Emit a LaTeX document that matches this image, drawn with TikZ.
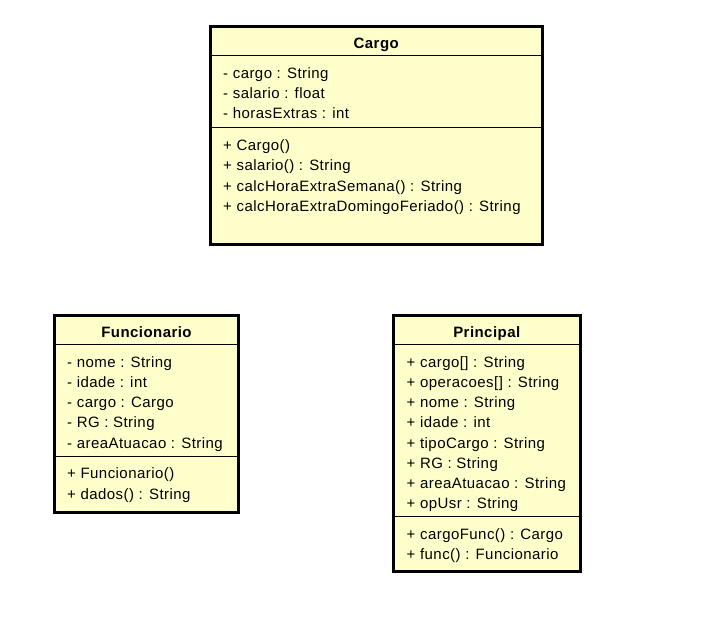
\documentclass[tikz,border=0pt]{standalone}
\usepackage{fontspec}
\setmainfont{Liberation Sans}[LetterSpace=3]
\begin{document}
\begin{tikzpicture}[x=1pt,y=-1pt,
  classbox/.style={draw=black, line width=3pt, fill=boxfill, inner sep=0pt, rectangle},
  sep/.style={draw=black, line width=1pt},
  title/.style={anchor=base, inner sep=0pt, font=\fontsize{15}{20}\selectfont\bfseries},
  member/.style={anchor=base west, inner sep=0pt, font=\fontsize{15}{20}\selectfont}]
\definecolor{boxfill}{HTML}{FFFFCC}
\useasboundingbox (0,0) rectangle (723,631);
% Cargo
\node[classbox, minimum width=331.5pt, minimum height=218pt] (cargo) at (376.25,135.5) {};
\draw[sep] (cargo.west |- 0,55.5) coordinate (c1l) -- (cargo.east |- 0,55.5) coordinate (c1r);
\draw[sep] (cargo.west |- 0,127.5) coordinate (c2l) -- (cargo.east |- 0,127.5) coordinate (c2r);
\node[title] (ctitle) at (376.25,49) {Cargo};
\node[member] (ca1) at (223,79) {- cargo : String};
\node[member] (ca2) at (223,99) {- salario : float};
\node[member] (ca3) at (223,119) {- horasExtras : int};
\node[member] (cm1) at (223,150.5) {+ Cargo()};
\node[member] (cm2) at (223,170.5) {+ salario() : String};
\node[member] (cm3) at (223,191.5) {+ calcHoraExtraSemana() : String};
\node[member] (cm4) at (223,211.5) {+ calcHoraExtraDomingoFeriado() : String};
% Funcionario
\node[classbox, minimum width=184pt, minimum height=197pt] (func) at (146.5,413.5) {};
\draw[sep] (func.west |- 0,344.5) coordinate (f1l) -- (func.east |- 0,344.5) coordinate (f1r);
\draw[sep] (func.west |- 0,456.5) coordinate (f2l) -- (func.east |- 0,456.5) coordinate (f2r);
\node[title] (ftitle) at (146.5,337.5) {Funcionario};
\node[member] (fa1) at (67,367) {- nome : String};
\node[member] (fa2) at (67,387) {- idade : int};
\node[member] (fa3) at (67,407) {- cargo : Cargo};
\node[member] (fa4) at (67,427) {- RG : String};
\node[member] (fa5) at (67,448) {- areaAtuacao : String};
\node[member] (fm1) at (67,478) {+ Funcionario()};
\node[member] (fm2) at (67,499) {+ dados() : String};
% Principal
\node[classbox, minimum width=186.5pt, minimum height=256.5pt] (princ) at (486.75,443.25) {};
\draw[sep] (princ.west |- 0,344.5) coordinate (p1l) -- (princ.east |- 0,344.5) coordinate (p1r);
\draw[sep] (princ.west |- 0,516.5) coordinate (p2l) -- (princ.east |- 0,516.5) coordinate (p2r);
\node[title] (ptitle) at (486.75,337.5) {Principal};
\node[member] (pa1) at (406.5,367) {+ cargo[] : String};
\node[member] (pa2) at (406.5,387) {+ operacoes[] : String};
\node[member] (pa3) at (406.5,407) {+ nome : String};
\node[member] (pa4) at (406.5,427) {+ idade : int};
\node[member] (pa5) at (406.5,448) {+ tipoCargo : String};
\node[member] (pa6) at (406.5,468) {+ RG : String};
\node[member] (pa7) at (406.5,488) {+ areaAtuacao : String};
\node[member] (pa8) at (406.5,508) {+ opUsr : String};
\node[member] (pm1) at (406.5,539) {+ cargoFunc() : Cargo};
\node[member] (pm2) at (406.5,559) {+ func() : Funcionario};
\end{tikzpicture}
\end{document}
